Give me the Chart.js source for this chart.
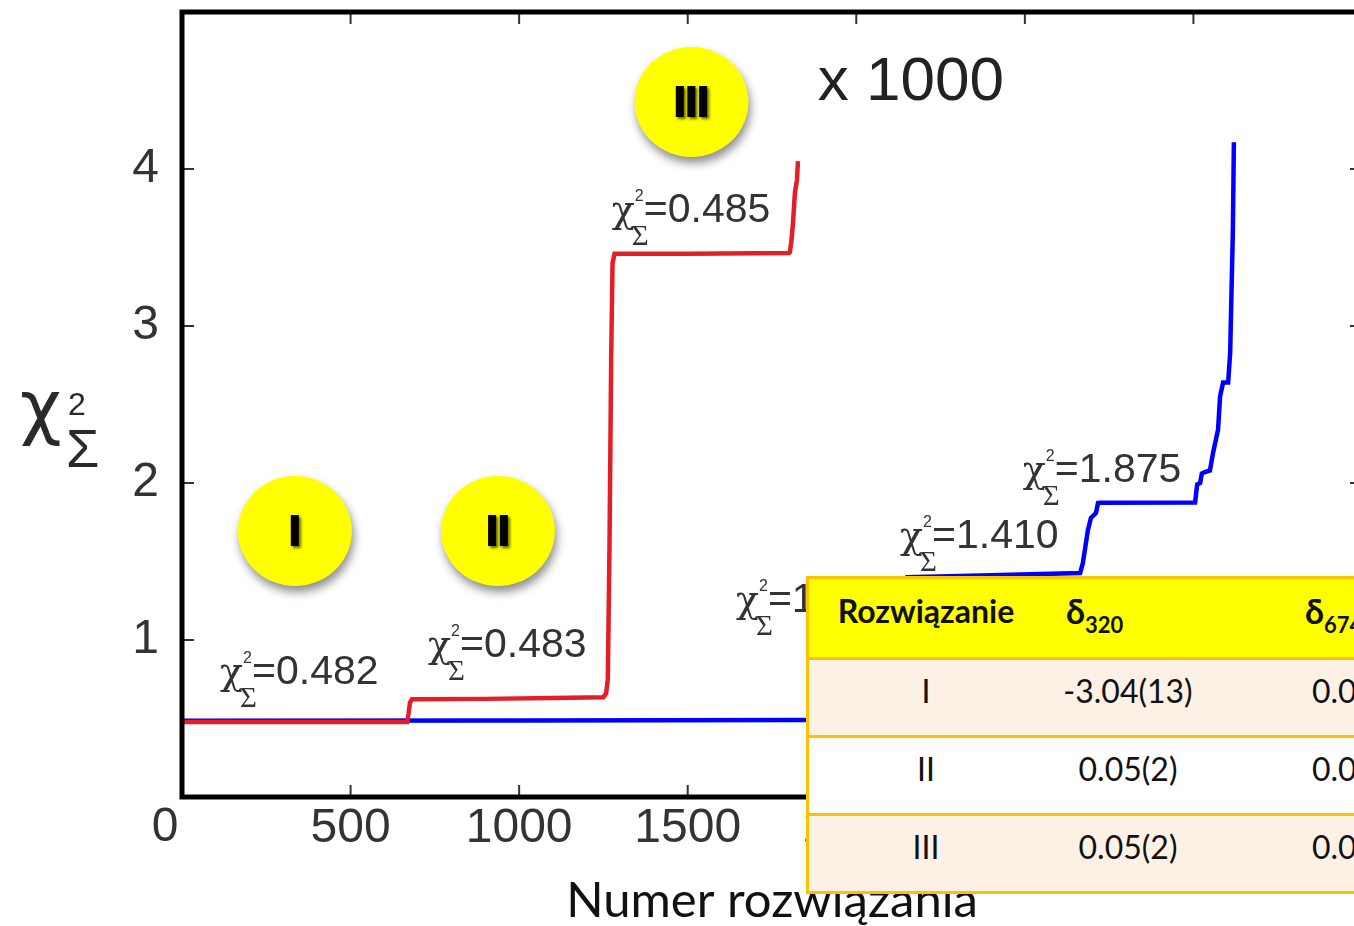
<!DOCTYPE html>
<html lang="pl">
<head>
<meta charset="UTF-8">
<title>Chi2 a numer rozwiązania</title>
<script src="https://cdn.jsdelivr.net/npm/chart.js"></script>
<style>
  body { margin: 0; background: #fff; overflow: hidden; }
  #wrap { position: relative; width: 1354px; height: 926px; overflow: hidden; }
  #tbl { position: absolute; left: 806px; top: 576px; width: 620px; border: 3px solid #FFC000;
         font-family: Lato, "Open Sans", sans-serif; color: #111; font-size: 32px; }
  .row { display: flex; align-items: center; border-top: 3px solid #FFC000; height: 61px; padding-bottom: 14px; white-space: nowrap; }
  .row.head { border-top: none; height: 62px; padding-bottom: 16px; background: #FFFF00; font-weight: bold; }
  .row.odd { background: #FDF1E6; }
  .row.even { background: #fff; }
  .c1 { width: 234px; text-align: center; }
  .c2 { width: 170px; text-align: center; }
  .c3 { padding-left: 99px; }
  .head .c2 { text-align: left; padding-left: 23px; width: 147px; }
  .head .c3 { padding-left: 92px; }
  .d { font-size: 34px; }
  .head sub { font-size: 22px; vertical-align: -9px; line-height: 0; }
</style>
</head>
<body>
<div id="wrap">
  <canvas id="chart" width="1400" height="926"></canvas>
  <div id="tbl"></div>
</div>
<script>
// red curve (upper solutions) and blue curve
const redX = [0, 668, 672, 676, 682, 900, 1100, 1250, 1258, 1263, 1268, 1273, 1277, 1283, 1500, 1800, 1803, 1808, 1812, 1818, 1824, 1827];
const redY = [0.478, 0.478, 0.53, 0.6, 0.622, 0.625, 0.63, 0.636, 0.66, 0.75, 1.6, 2.8, 3.40, 3.46, 3.46, 3.465, 3.47, 3.55, 3.65, 3.85, 3.93, 4.05];

const blueX = [0, 1000, 1850, 1990, 2010, 2030, 2100, 2120, 2150, 2400, 2664, 2672, 2687, 2696, 2711, 2717, 2723, 3005, 3011, 3020, 3025, 3034, 3049, 3058, 3073, 3079, 3088, 3103, 3109, 3117, 3120];
const blueY = [0.486, 0.487, 0.49, 0.49, 0.85, 1.15, 1.17, 1.3, 1.40, 1.412, 1.427, 1.49, 1.70, 1.777, 1.809, 1.873, 1.875, 1.876, 1.99, 2.0, 2.06, 2.07, 2.08, 2.19, 2.34, 2.55, 2.64, 2.64, 2.83, 3.61, 4.17];

// chi^2 labels, badges (data coords)
const chiLabels = [
  {x: 113, y: 0.72, t: '=0.482'},
  {x: 730, y: 0.892, t: '=0.483'},
  {x: 1275, y: 3.662, t: '=0.485'},
  {x: 1643, y: 1.178, t: '=1'},
  {x: 2130, y: 1.586, t: '=1.410'},
  {x: 2494, y: 2.006, t: '=1.875'}
];
const badges = [
  {x: 335, y: 1.694, t: 'I'},
  {x: 937, y: 1.694, t: 'II'},
  {x: 1511, y: 4.427, t: 'III'}
];

// table
const tableHead = ['Rozwiązanie', '320', '674'];
const tableRows = [
  ['I', '-3.04(13)', '0.05(2)'],
  ['II', '0.05(2)', '0.05(2)'],
  ['III', '0.05(2)', '0.05(2)']
];

let html = '<div class="row head"><div class="c1">' + tableHead[0] + '</div>' +
  '<div class="c2"><span class="d">δ</span><sub>' + tableHead[1] + '</sub></div>' +
  '<div class="c3"><span class="d">δ</span><sub>' + tableHead[2] + '</sub></div></div>';
tableRows.forEach((r, i) => {
  html += '<div class="row ' + (i % 2 ? 'even' : 'odd') + '"><div class="c1">' + r[0] +
    '</div><div class="c2">' + r[1] + '</div><div class="c3">' + r[2] + '</div></div>';
});
document.getElementById('tbl').innerHTML = html;

function drawChi(ctx, X, B, txt) {
  ctx.fillStyle = '#333';
  ctx.textAlign = 'left';
  ctx.textBaseline = 'alphabetic';
  ctx.font = '38px "DejaVu Serif"';
  ctx.fillText('χ', X, B);
  ctx.font = '16px "Liberation Sans"';
  ctx.fillText('2', X + 23, B - 21);
  ctx.font = '29px "Liberation Serif"';
  ctx.fillText('Σ', X + 20, B + 23);
  ctx.font = '41px "Liberation Sans"';
  ctx.fillText(txt, X + 32, B);
}

function drawBadge(ctx, cx, cy, txt) {
  ctx.save();
  ctx.shadowColor = 'rgba(0,0,0,0.45)';
  ctx.shadowBlur = 10;
  ctx.shadowOffsetX = 2;
  ctx.shadowOffsetY = 6;
  ctx.fillStyle = '#FFFF00';
  ctx.beginPath();
  ctx.ellipse(cx, cy, 57, 55, 0, 0, Math.PI * 2);
  ctx.fill();
  ctx.shadowColor = 'rgba(0,0,0,0.5)';
  ctx.shadowBlur = 3;
  ctx.shadowOffsetX = 2;
  ctx.shadowOffsetY = 2;
  ctx.fillStyle = '#000';
  ctx.strokeStyle = '#000';
  ctx.lineWidth = 2;
  ctx.font = 'bold 42px "Liberation Sans"';
  ctx.textAlign = 'center';
  ctx.textBaseline = 'middle';
  ctx.fillText(txt, cx, cy + 2);
  ctx.strokeText(txt, cx, cy + 2);
  ctx.restore();
}

const decor = {
  id: 'decor',
  afterDraw(chart) {
    const {ctx, chartArea: a, scales: {x, y}} = chart;
    ctx.save();
    // inward ticks
    ctx.strokeStyle = '#333';
    ctx.lineWidth = 2;
    ctx.beginPath();
    x.ticks.forEach(t => {
      if (t.value <= x.min || t.value >= x.max) return;
      const px = x.getPixelForValue(t.value);
      ctx.moveTo(px, a.bottom); ctx.lineTo(px, a.bottom - 12);
      ctx.moveTo(px, a.top); ctx.lineTo(px, a.top + 12);
    });
    y.ticks.forEach(t => {
      if (t.value <= y.min || t.value >= y.max) return;
      const py = y.getPixelForValue(t.value);
      ctx.moveTo(a.left, py); ctx.lineTo(a.left + 12, py);
      ctx.moveTo(a.right, py); ctx.lineTo(a.right - 12, py);
    });
    ctx.stroke();
    // frame
    ctx.strokeStyle = '#000';
    ctx.lineWidth = 5;
    ctx.strokeRect(a.left, a.top, a.right - a.left, a.bottom - a.top);

    // shared zero label
    ctx.fillStyle = '#333';
    ctx.font = '48px "Liberation Sans"';
    ctx.textAlign = 'center';
    ctx.textBaseline = 'middle';
    ctx.fillText('0', x.getPixelForValue(0) - 17, a.bottom + 31);

    // y title
    ctx.fillStyle = '#2a2a2a';
    ctx.textAlign = 'left';
    ctx.textBaseline = 'alphabetic';
    ctx.font = '72px "DejaVu Sans"';
    ctx.fillText('χ', 20, 431);
    ctx.font = '32px "Liberation Sans"';
    ctx.fillText('2', 68, 415);
    ctx.font = '54px "Liberation Sans"';
    ctx.fillText('Σ', 66, 467);

    // x 1000
    ctx.fillStyle = '#222';
    ctx.font = '62px "Liberation Sans"';
    ctx.fillText('x 1000', x.getPixelForValue(1886), y.getPixelForValue(4.44));

    chiLabels.forEach(l => drawChi(ctx, x.getPixelForValue(l.x), y.getPixelForValue(l.y), l.t));
    badges.forEach(b => drawBadge(ctx, x.getPixelForValue(b.x), y.getPixelForValue(b.y), b.t));
    ctx.restore();
  }
};

new Chart(document.getElementById('chart').getContext('2d'), {
  type: 'line',
  data: {
    datasets: [
      {
        label: 'red',
        data: redX.map((v, i) => ({x: v, y: redY[i]})),
        borderColor: '#E41E26',
        borderWidth: 4.5,
        pointRadius: 0,
        fill: false,
        tension: 0
      },
      {
        label: 'blue',
        data: blueX.map((v, i) => ({x: v, y: blueY[i]})),
        borderColor: '#0000FF',
        borderWidth: 4.5,
        pointRadius: 0,
        fill: false,
        tension: 0
      }
    ]
  },
  options: {
    responsive: false,
    animation: false,
    layout: {padding: {top: 12, left: 0, right: 38, bottom: 0}},
    plugins: {legend: {display: false}, tooltip: {enabled: false}},
    scales: {
      x: {
        type: 'linear',
        min: 0,
        max: 3500,
        grid: {display: false},
        border: {display: false},
        ticks: {
          stepSize: 500,
          autoSkip: false,
          maxRotation: 0,
          padding: -5,
          color: '#333',
          font: {family: 'Liberation Sans', size: 48},
          callback: v => v === 0 ? '' : v
        },
        title: {
          display: true,
          text: 'Numer rozwiązania',
          color: '#111',
          font: {family: 'Lato', size: 49},
          padding: {top: 0, bottom: -5}
        },
        afterFit: s => { s.height = 129; s.paddingLeft = 0; s.paddingRight = 0; }
      },
      y: {
        min: 0,
        max: 5,
        grid: {display: false},
        border: {display: false},
        ticks: {
          stepSize: 1,
          padding: 15,
          color: '#333',
          font: {family: 'Liberation Sans', size: 48},
          callback: v => (v === 0 || v === 5) ? '' : v
        },
        afterFit: s => { s.width = 182; s.paddingTop = 0; s.paddingBottom = 0; }
      }
    }
  },
  plugins: [decor]
});
</script>
</body>
</html>
